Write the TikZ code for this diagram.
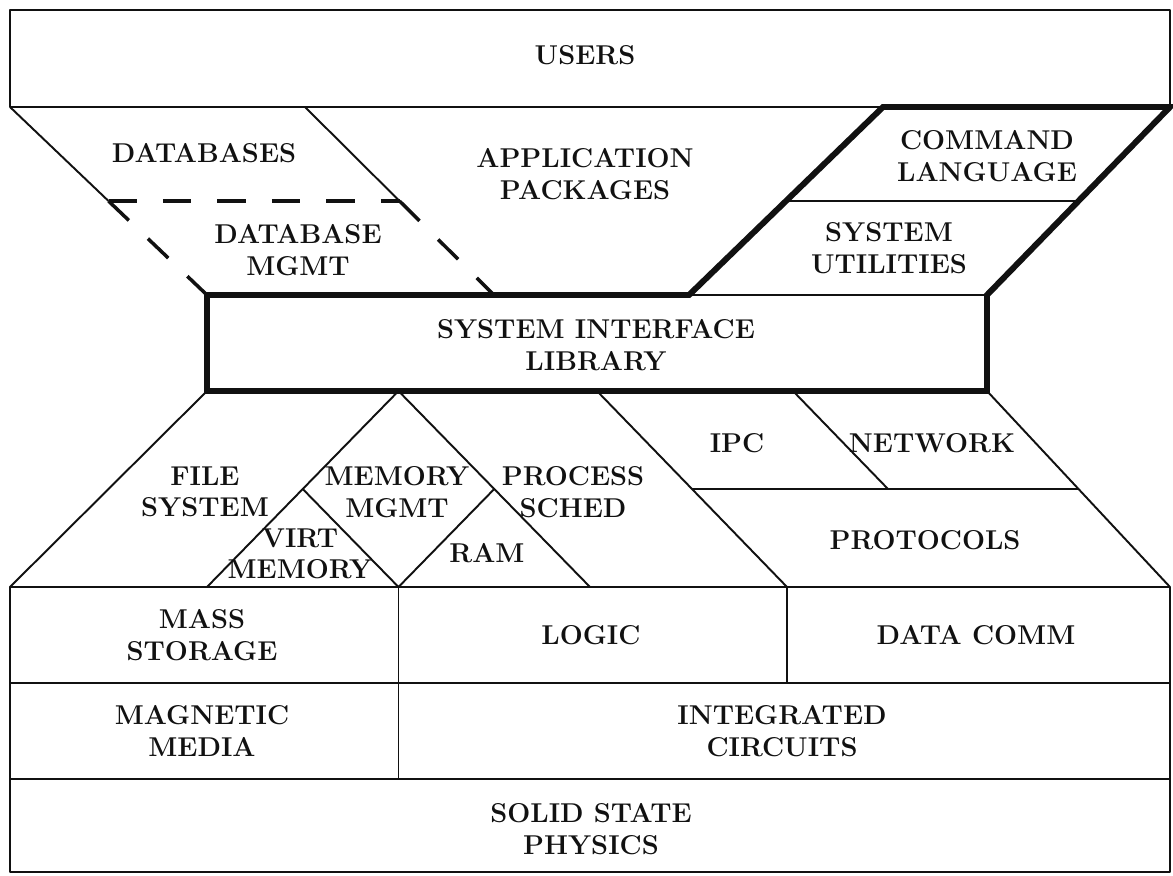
\documentclass[tikz,border=0pt]{standalone}
\usepackage{fontspec}
\usetikzlibrary{calc}
\definecolor{ink}{HTML}{111111}
\newcommand{\layerfont}{\fontsize{15.5}{18}\selectfont\bfseries\addfontfeatures{LetterSpace=3}}
\tikzset{
 every node/.append style={font=\layerfont,text=ink,align=center,inner sep=0pt},
 rule/.style={draw=ink,line width=1.1pt,line join=round},
 heavy/.style={draw=ink,line width=3.4pt,line join=miter},
 hidden/.style={draw=ink,line width=2pt,dash pattern=on 16pt off 15pt},
}
\begin{document}
\begin{tikzpicture}

\useasboundingbox (0,0) rectangle (23.46,-17.52);
% corner points of the bands
\coordinate (a0) at (0.2,-2.14); \coordinate (a1) at (6.1,-2.14);
\coordinate (c0) at (17.66,-2.14); \coordinate (c1) at (23.4,-2.14);
\coordinate (s0) at (4.14,-5.9); \coordinate (s1) at (9.88,-5.9);
\coordinate (s2) at (13.78,-5.9); \coordinate (s3) at (19.74,-5.9);
\coordinate (b0) at (4.14,-7.82); \coordinate (m0) at (7.97,-7.82);
\coordinate (p0) at (11.94,-7.82); \coordinate (n0) at (15.86,-7.82);
\coordinate (b3) at (19.74,-7.82);
\coordinate (g0) at (0.2,-11.74); \coordinate (g1) at (4.14,-11.74);
\coordinate (g2) at (7.97,-11.74); \coordinate (g3) at (11.8,-11.74);
\coordinate (g4) at (15.74,-11.74); \coordinate (g5) at (23.4,-11.74);
\coordinate (h0) at (0.2,-13.66); \coordinate (h1) at (23.4,-13.66);
\coordinate (k0) at (0.2,-15.58); \coordinate (k1) at (23.4,-15.58);
\coordinate (z1) at (23.4,-17.44);

% users
\draw[rule] (0.2,-0.2) rectangle (c1);
\node (users) at (11.7,-1.1) {USERS};

% databases, application packages
\draw[rule] (a0) -- ($(a0)!.5!(s0)$) coordinate (d0);
\draw[rule] (a1) -- ($(a1)!.5!(s1)$) coordinate (d1);
\draw[hidden] (d0) -- (d1);
\draw[hidden] (d0) -- (s0); \draw[hidden] (d1) -- (s1);
\node (databases) at (4.08,-3.06) {DATABASES};
\node (dbmgmt) at (5.96,-5.0) {DATABASE\\MGMT};
\node (apps) at (11.7,-3.48) {APPLICATION\\PACKAGES};

% system interface library with command language and utilities
\draw[rule] (s2) -- (s3);
\draw[rule] ($(s2)!.5!(c0)$) -- ($(s3)!.5!(c1)$);
\draw[heavy] (c0) -- (c1) -- (s3) -- (b3) -- (b0) -- (s0) -- (s2) -- cycle;
\node (command) at (19.74,-3.12) {COMMAND\\LANGUAGE};
\node (utilities) at (17.78,-4.96) {SYSTEM\\UTILITIES};
\node (sil) at (11.92,-6.9) {SYSTEM INTERFACE\\LIBRARY};

% operating system band
\draw[rule] (b0) -- (g0);
\draw[rule] (g1) -- (m0) -- (g3);
\draw[rule] ($(g1)!.5!(m0)$) -- (g2) -- ($(m0)!.5!(g3)$);
\draw[rule] (p0) -- (g4);
\draw[rule] (b3) -- (g5);
\draw[rule] ($(p0)!.5!(g4)$) -- ($(b3)!.5!(g5)$);
\draw[rule] (n0) -- (17.76,-9.78);
\node (files) at (4.1,-9.84) {FILE\\SYSTEM};
\node (memory) at (7.94,-9.84) {MEMORY\\MGMT};
\node (virt) at (6.0,-11.08) {VIRT\\MEMORY};
\node (ram) at (9.74,-11.06) {RAM};
\node (sched) at (11.46,-9.84) {PROCESS\\SCHED};
\node (ipc) at (14.74,-8.86) {IPC};
\node (network) at (18.64,-8.86) {NETWORK};
\node (protocols) at (18.5,-10.8) {PROTOCOLS};

% hardware rows
\draw[rule] (g0) rectangle (z1);
\draw[rule] (h0) -- (h1); \draw[rule] (k0) -- (k1);
\draw[rule] (g2) -- (g2 |- k0); \draw[rule] (g4) -- (g4 |- h0);
\node (storage) at (4.04,-12.7) {MASS\\STORAGE};
\node (logic) at (11.82,-12.7) {LOGIC};
\node (datacomm) at (19.52,-12.7) {DATA COMM};
\node (magnetic) at (4.04,-14.62) {MAGNETIC\\MEDIA};
\node (circuits) at (15.64,-14.62) {INTEGRATED\\CIRCUITS};
\node (physics) at (11.82,-16.58) {SOLID STATE\\PHYSICS};
\end{tikzpicture}
\end{document}
